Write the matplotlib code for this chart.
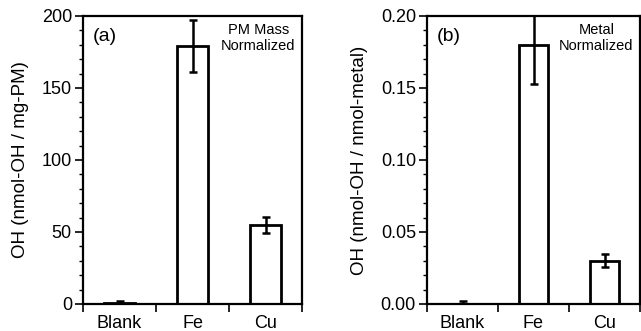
import matplotlib
matplotlib.use("Agg")
import matplotlib.pyplot as plt
from matplotlib.ticker import MultipleLocator

plt.rcParams['font.family'] = ['Liberation Sans', 'DejaVu Sans']

categories = ['Blank', 'Fe', 'Cu']
pm_values = [1.0, 179.0, 55.0]
pm_errors = [0.8, 18.0, 5.5]
metal_values = [0.0, 0.180, 0.030]
metal_errors = [0.002, 0.027, 0.0045]

fig = plt.figure(figsize=(6.41, 3.31), dpi=100)
ax1 = fig.add_axes([83/641, 1 - 304/331, 219/641, 288/331])
ax2 = fig.add_axes([427/641, 1 - 304/331, 213/641, 288/331])

xpos = [0.5, 1.5, 2.5]

def draw_panel(ax, vals, errs, ymax, major, minor, fmt, label, tag, note):
    ax.bar(xpos, vals, width=0.42, facecolor='white', edgecolor='black', linewidth=2, zorder=2)
    ax.errorbar(xpos, vals, yerr=errs, fmt='none', ecolor='black', elinewidth=1.8,
                capsize=2.8, capthick=1.8, zorder=3)
    ax.set_xlim(0, 3)
    ax.set_ylim(0, ymax)
    ax.set_xticks([0, 1, 2, 3])
    ax.set_xticklabels([])
    ax.set_xticks(xpos, minor=True)
    ax.set_xticklabels(categories, minor=True, fontsize=13)
    ax.tick_params(axis='x', which='minor', length=0, pad=8)
    ax.tick_params(axis='x', which='major', length=6, width=1.2, direction='out')
    ax.yaxis.set_major_locator(MultipleLocator(major))
    ax.yaxis.set_minor_locator(MultipleLocator(minor))
    ax.yaxis.set_major_formatter(fmt)
    ax.tick_params(axis='y', which='major', length=6, width=1.2, direction='out', labelsize=13, pad=2)
    ax.tick_params(axis='y', which='minor', length=3, width=1, direction='out')
    for s in ax.spines.values():
        s.set_linewidth(1.6)
    ax.set_ylabel(label, fontsize=13.5, labelpad=9)
    ax.text(0.045, 0.96, tag, transform=ax.transAxes, fontsize=14, va='top', ha='left')
    ax.text(0.97, 0.975, note, transform=ax.transAxes, fontsize=10.5, va='top', ha='right',
            multialignment='center', linespacing=1.15)

draw_panel(ax1, pm_values, pm_errors, 200, 50, 10, '{x:.0f}',
           'OH (nmol-OH / mg-PM)', '(a)', 'PM Mass\nNormalized')
draw_panel(ax2, metal_values, metal_errors, 0.20, 0.05, 0.01, '{x:.2f}',
           'OH (nmol-OH / nmol-metal)', '(b)', 'Metal\nNormalized')

fig.savefig('out.png', dpi=100)
